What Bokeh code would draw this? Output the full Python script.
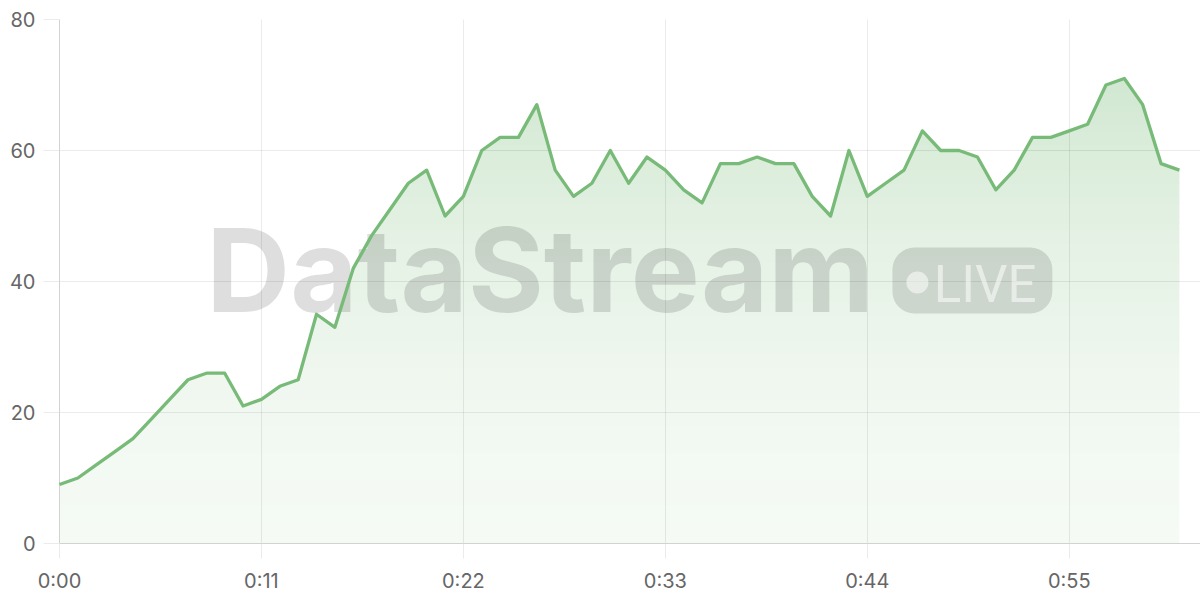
import numpy as np
from bokeh.plotting import figure
from bokeh.models import FixedTicker, Range1d, BoxAnnotation
from bokeh.core.properties import value
from bokeh.embed import file_html
from bokeh.resources import INLINE

# ---- data ----
values = [9, 10, 12, 14, 16, 19, 22, 25, 26, 26,
          21, 22, 24, 25, 35, 33, 42, 47, 51, 55,
          57, 50, 53, 60, 62, 62, 67, 57, 53, 55,
          60, 55, 59, 57, 54, 52, 58, 58, 59, 58,
          58, 53, 50, 60, 53, 55, 57, 63, 60, 60,
          59, 54, 57, 62, 62, 63, 64, 70, 71, 67,
          58, 57]
seconds = list(range(len(values)))
x_tick_values = [0, 11, 22, 33, 44, 55]
x_tick_labels = ["0:00", "0:11", "0:22", "0:33", "0:44", "0:55"]
y_tick_values = [0, 20, 40, 60, 80]

LINE_RGB = (120, 186, 120)
LINE = "#78ba78"
AXIS = "#d2d2d2"
TICK = "#ebebeb"
LABEL = "#666666"
FONT = "Inter"

p = figure(width=1200, height=600, x_range=Range1d(0, 62.15), y_range=Range1d(0, 80),
           toolbar_location=None, output_backend="svg",
           min_border_left=59, min_border_right=0, min_border_top=19, min_border_bottom=57)
p.outline_line_color = None
p.background_fill_color = "white"

for ax in (p.xaxis[0], p.yaxis[0]):
    ax.axis_line_color = AXIS
    ax.axis_line_width = 1
    ax.major_tick_line_color = TICK
    ax.major_tick_in = 0
    ax.minor_tick_line_color = None
    ax.major_label_text_color = LABEL
    ax.major_label_text_font = FONT
    ax.major_label_text_font_size = "20px"

p.xaxis.ticker = FixedTicker(ticks=x_tick_values)
p.xaxis.major_label_overrides = {v: l for v, l in zip(x_tick_values, x_tick_labels)}
p.xaxis.major_tick_out = 15
p.xaxis.major_label_standoff = 10
p.yaxis.ticker = FixedTicker(ticks=y_tick_values)
p.yaxis.major_tick_out = 16
p.yaxis.major_label_standoff = 8

for g in (p.xgrid[0], p.ygrid[0]):
    g.grid_line_color = "black"
    g.grid_line_alpha = 0.08
    g.level = "guide"

# ---- gradient area fill: opaque pre-blended bands, exact on the line ----
xv = np.array(seconds, dtype=float)
vv = np.array(values, dtype=float)
levels = np.arange(0, 80, 1.0)
cross = []
for i in range(len(xv) - 1):
    a, b = vv[i], vv[i + 1]
    lo, hi = min(a, b), max(a, b)
    for L in levels:
        if lo < L < hi:
            cross.append(xv[i] + (L - a) / (b - a) * (xv[i + 1] - xv[i]))
fx = np.unique(np.concatenate([xv, np.array(cross)]))
fy = np.interp(fx, xv, vv)

def alpha_at(y):
    return 0.074 + 0.00067 * y + 0.0000433 * y * y

def band_color(y):
    a = alpha_at(y)
    r, g, b = (round(255 - (255 - c) * a) for c in LINE_RGB)
    return "#%02x%02x%02x" % (r, g, b)

for L in levels:
    if fy.max() <= L:
        break
    y1 = np.zeros_like(fx) if L == 0 else np.minimum(fy, L - 0.15)
    y2 = np.minimum(fy, L + 1)
    p.varea(x=fx, y1=y1, y2=y2, fill_color=band_color(L + 0.5), fill_alpha=1.0)

# ---- watermark (decoration) ----
p.text(x=[8.0], y=[41.83], text=["DataStream"], text_font=value(FONT), text_font_style="bold",
       text_font_size="116px", text_color="black", text_alpha=0.13,
       text_baseline="alphabetic", text_align="left")
p.add_layout(BoxAnnotation(left=45.37, right=54.08, top=45.19, bottom=35.11, border_radius=22,
                           fill_color="black", fill_alpha=0.12, line_alpha=0))
p.add_layout(BoxAnnotation(left=46.13, right=47.33, top=41.53, bottom=38.17, border_radius=11,
                           fill_color="white", fill_alpha=0.55, line_alpha=0))
live = p.text(x=[47.62], y=[39.5], text=["LIVE"], text_font=value("Roboto"),
              text_font_size="51px", text_color="white", text_alpha=0.55,
              text_baseline="alphabetic", text_align="left")
live.level = "overlay"

ln = p.line(seconds, values, line_color=LINE, line_width=3.3, line_join="round")
ln.level = "overlay"

open("out.html", "w").write(file_html(p, INLINE))
